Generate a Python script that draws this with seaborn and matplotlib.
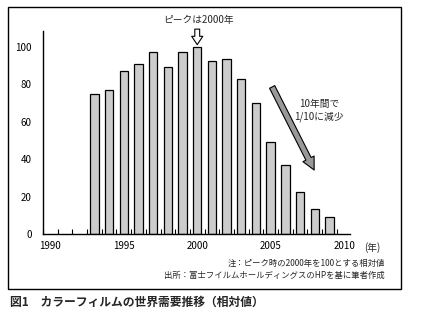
import matplotlib
matplotlib.use("Agg")
import matplotlib.pyplot as plt
import seaborn as sns
import pandas as pd
from matplotlib.patches import Rectangle
from matplotlib.ticker import MultipleLocator

# データ（2000年を100とする相対値）
years = [1993, 1994, 1995, 1996, 1997, 1998, 1999, 2000, 2001,
         2002, 2003, 2004, 2005, 2006, 2007, 2008, 2009]
demand = [74.7, 77, 87, 90.9, 97.2, 89.5, 97.2, 100, 92.5,
          93.6, 82.7, 70.2, 49, 36.9, 22.6, 13.5, 8.9]
x_ticks = [1990, 1995, 2000, 2005, 2010]
y_ticks = [0, 20, 40, 60, 80, 100]

df = pd.DataFrame({"年": years, "需要": demand})

sns.set_style("white")
plt.rcParams['font.family'] = ['Noto Sans CJK JP', 'DejaVu Sans']

fig = plt.figure(figsize=(4.24, 3.21), dpi=100)
ax = fig.add_axes([43 / 424, 1 - 234 / 321, (350 - 43) / 424, (234 - 31) / 321])

sns.barplot(data=df, x="年", y="需要", native_scale=True, width=0.57,
            color="#cccccc", edgecolor="black", linewidth=0.9,
            saturation=1, ax=ax)

ax.set_xlim(1989.5, 2010.4)
ax.set_ylim(0, 108.5)
ax.set_xticks(x_ticks)
ax.set_xticklabels([str(t) for t in x_ticks])
ax.set_yticks(y_ticks)
# 年の区切り目盛り（棒の間）
ax.xaxis.set_minor_locator(MultipleLocator(1, offset=0.5))
ax.tick_params(axis="both", which="both", direction="in", length=3.5,
               width=0.8, labelsize=7, colors="black")
ax.tick_params(axis="y", pad=8)
ax.tick_params(axis="x", which="major", length=0, pad=5)
ax.tick_params(axis="x", which="minor", bottom=True)
ax.set_xlabel("")
ax.set_ylabel("")
for s in ["top", "right"]:
    ax.spines[s].set_visible(False)
for s in ["left", "bottom"]:
    ax.spines[s].set_color("black")
    ax.spines[s].set_linewidth(1)

ax.text(2011.9, -4.2, "(年)", fontsize=7, ha="center", va="top")

# ピークの注記
ax.text(2000.1, 114.4, "ピークは2000年", fontsize=7, ha="center", va="center",
        clip_on=False)
ax.annotate("", xy=(2000, 101.2), xytext=(2000, 109.5), annotation_clip=False,
            arrowprops=dict(arrowstyle="simple,head_length=0.6,head_width=0.8,tail_width=0.35",
                            fc="white", ec="black", lw=0.8, mutation_scale=10,
                            shrinkA=0, shrinkB=0))

# 減少の矢印
ax.annotate("", xy=(2007.96, 34.2), xytext=(2005.1, 78.6),
            arrowprops=dict(arrowstyle="simple,head_length=0.9,head_width=0.9,tail_width=0.42",
                            fc="#999999", ec="black", lw=0.8, mutation_scale=10,
                            shrinkA=0, shrinkB=0))
ax.text(2008.3, 66, "10年間で\n1/10に減少", fontsize=7, ha="center", va="center",
        linespacing=1.3)

# 注・出所
fig.text(385 / 424, 1 - 263 / 321, "注：ピーク時の2000年を100とする相対値",
         fontsize=6, ha="right", va="center")
fig.text(385 / 424, 1 - 275 / 321, "出所：富士フイルムホールディングスのHPを基に筆者作成",
         fontsize=6, ha="right", va="center")

# 外枠
fig.patches.append(Rectangle((8 / 424, 1 - 289 / 321), (401 - 8) / 424, (289 - 7) / 321,
                             transform=fig.transFigure, fill=False, ec="black", lw=1))

fig.text(10 / 424, 1 - 302 / 321, "図1　カラーフィルムの世界需要推移（相対値）",
         fontsize=8.5, fontweight="bold", ha="left", va="center")

fig.savefig("out.png", dpi=100)
